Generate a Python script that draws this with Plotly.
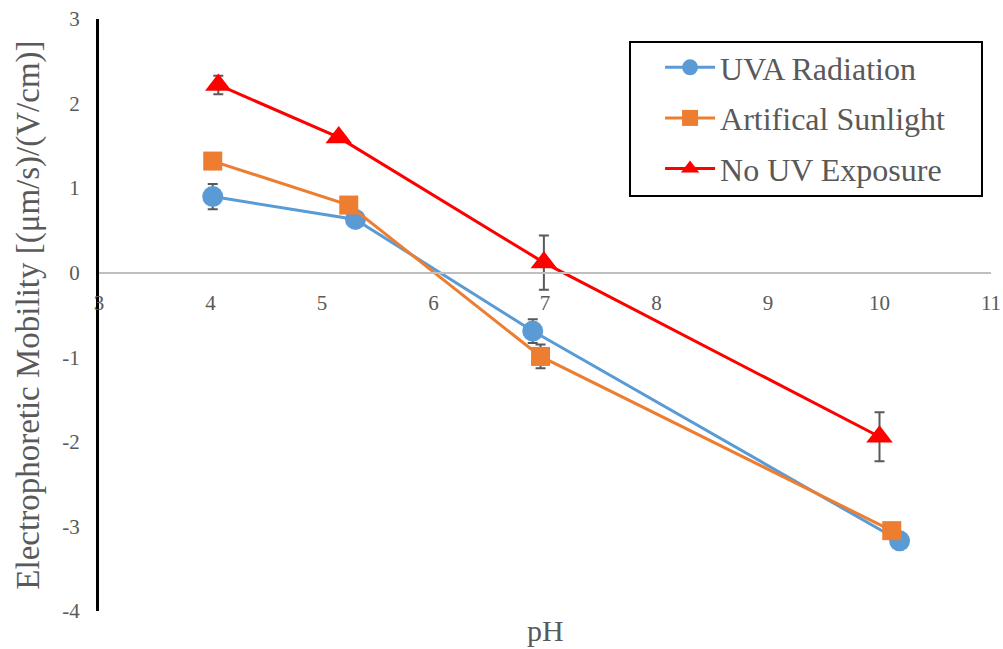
import plotly.graph_objects as go

# pH values and electrophoretic mobility for each treatment
uva_ph = [4.02, 5.30, 6.89, 10.18]
uva_mob = [0.90, 0.63, -0.69, -3.17]
uva_err = [0.15, 0.06, 0.14, 0.04]

sun_ph = [4.02, 5.24, 6.96, 10.11]
sun_mob = [1.32, 0.80, -0.99, -3.05]
sun_err = [0.05, 0.05, 0.14, 0.04]

nouv_ph = [4.07, 5.15, 6.99, 10.00]
nouv_mob = [2.22, 1.60, 0.12, -1.94]
nouv_err = [0.11, 0.03, 0.32, 0.29]

x_ticks = [3, 4, 5, 6, 7, 8, 9, 10, 11]
y_ticks = [-4, -3, -2, -1, 0, 1, 2, 3]

FONT = "Liberation Serif"
GREY = "#595959"

series = [
    ("UVA Radiation", uva_ph, uva_mob, uva_err, "#5B9BD5", "circle", 21),
    ("Artifical Sunlight", sun_ph, sun_mob, sun_err, "#ED7D31", "square", 19),
    ("No UV Exposure", nouv_ph, nouv_mob, nouv_err, "#FF0000", "triangle-up", 23),
]

fig = go.Figure()
for name, xs, ys, errs, color, symbol, size in series:
    fig.add_trace(go.Scatter(
        x=xs, y=ys, name=name, mode="lines+markers",
        legendgroup=name,
        line=dict(color=color, width=3),
        marker=dict(color=color, symbol=symbol, size=size),
        error_y=dict(type="data", array=errs, visible=True,
                     color=GREY, thickness=2, width=5),
    ))

fig.update_layout(
    width=1003, height=649,
    margin=dict(l=99, r=12, t=19, b=38),
    paper_bgcolor="white", plot_bgcolor="white",
    font=dict(family=FONT, color=GREY),
    showlegend=True,
    legend=dict(
        x=0.629, y=0.9645, xanchor="left", yanchor="top",
        borderwidth=0, bgcolor="rgba(0,0,0,0)",
        font=dict(family=FONT, size=32, color=GREY),
        tracegroupgap=6, itemwidth=50,
    ),
    # frame around the legend
    shapes=[dict(type="rect", xref="paper", yref="paper",
                 x0=0.5953, x1=0.9899, y0=0.701, y1=0.961,
                 line=dict(color="black", width=2), fillcolor="white",
                 layer="below")],
    xaxis=dict(
        range=[3, 11], tickvals=x_ticks, ticktext=[str(v) for v in x_ticks],
        anchor="free", position=4 / 7, automargin=False,
        showline=True, linecolor="#BFBFBF", linewidth=2,
        showgrid=False, zeroline=False, ticks="",
        ticklabelstandoff=11,
        tickfont=dict(family=FONT, size=21, color=GREY),
    ),
    yaxis=dict(
        range=[-4, 3], tickvals=y_ticks, ticktext=[str(v) for v in y_ticks],
        automargin=False,
        showline=True, linecolor="black", linewidth=3,
        showgrid=False, zeroline=False, ticks="",
        ticklabelstandoff=12,
        tickfont=dict(family=FONT, size=21, color=GREY),
    ),
    annotations=[
        dict(text="Electrophoretic Mobility [(μm/s)/(V/cm)]",
             xref="paper", yref="paper", x=-0.0800, y=0.5,
             xanchor="center", yanchor="middle", textangle=-90,
             showarrow=False, font=dict(family=FONT, size=33, color=GREY)),
        dict(text="pH", xref="paper", yref="paper", x=0.5, y=-0.033,
             xanchor="center", yanchor="middle", showarrow=False,
             font=dict(family=FONT, size=30, color=GREY)),
    ],
)

fig.write_html("out.html")
